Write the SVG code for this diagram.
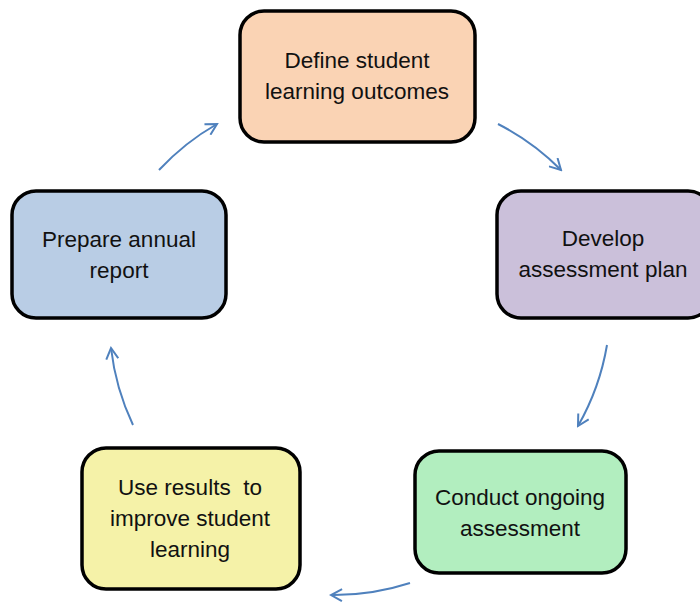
<svg xmlns="http://www.w3.org/2000/svg" width="700" height="602" viewBox="0 0 700 602">
<defs>
<style>
.box{stroke:#000;stroke-width:3.5}
.t{font-family:"Liberation Sans",Arial,sans-serif;font-size:22.5px;fill:#111;text-anchor:middle}
.c{fill:none;stroke:#4F81BD;stroke-width:2}
</style>
<marker id="ah" viewBox="0 0 14 14" refX="12" refY="7" markerWidth="14" markerHeight="14" markerUnits="userSpaceOnUse" orient="auto">
<path d="M1,1 L12,7 L1,13" fill="none" stroke="#4F81BD" stroke-width="2"/>
</marker>
</defs>
<rect width="700" height="602" fill="#fff"/>
<g id="connectors">
<path class="c" d="M159,170 A245,245 0 0 1 217,124" marker-end="url(#ah)"/>
<path class="c" d="M498,124 A245,245 0 0 1 561,170" marker-end="url(#ah)"/>
<path class="c" d="M607,345 A245,245 0 0 1 578,426" marker-end="url(#ah)"/>
<path class="c" d="M410,583 A245,245 0 0 1 331,595" marker-end="url(#ah)"/>
<path class="c" d="M133,425 A245,245 0 0 1 111,348" marker-end="url(#ah)"/>
</g>
<g id="define">
<rect class="box" x="240" y="11" width="235" height="131" rx="24" fill="#FAD3B4"/>
<text class="t" x="357" y="68">Define student</text>
<text class="t" x="357" y="99">learning outcomes</text>
</g>
<g id="develop">
<rect class="box" x="497" y="191" width="215" height="127" rx="24" fill="#CBC0DA"/>
<text class="t" x="603" y="246">Develop</text>
<text class="t" x="603" y="277">assessment plan</text>
</g>
<g id="conduct">
<rect class="box" x="415" y="451" width="211" height="122" rx="24" fill="#B2EEBF"/>
<text class="t" x="520" y="505">Conduct ongoing</text>
<text class="t" x="520" y="536">assessment</text>
</g>
<g id="use">
<rect class="box" x="82" y="448" width="218" height="141" rx="24" fill="#F5F2A8"/>
<text class="t" x="190" y="495" xml:space="preserve">Use results  to</text>
<text class="t" x="190" y="526">improve student</text>
<text class="t" x="190" y="557">learning</text>
</g>
<g id="prepare">
<rect class="box" x="12" y="191" width="214" height="127" rx="24" fill="#B9CDE5"/>
<text class="t" x="119" y="247">Prepare annual</text>
<text class="t" x="119" y="278">report</text>
</g>
</svg>
